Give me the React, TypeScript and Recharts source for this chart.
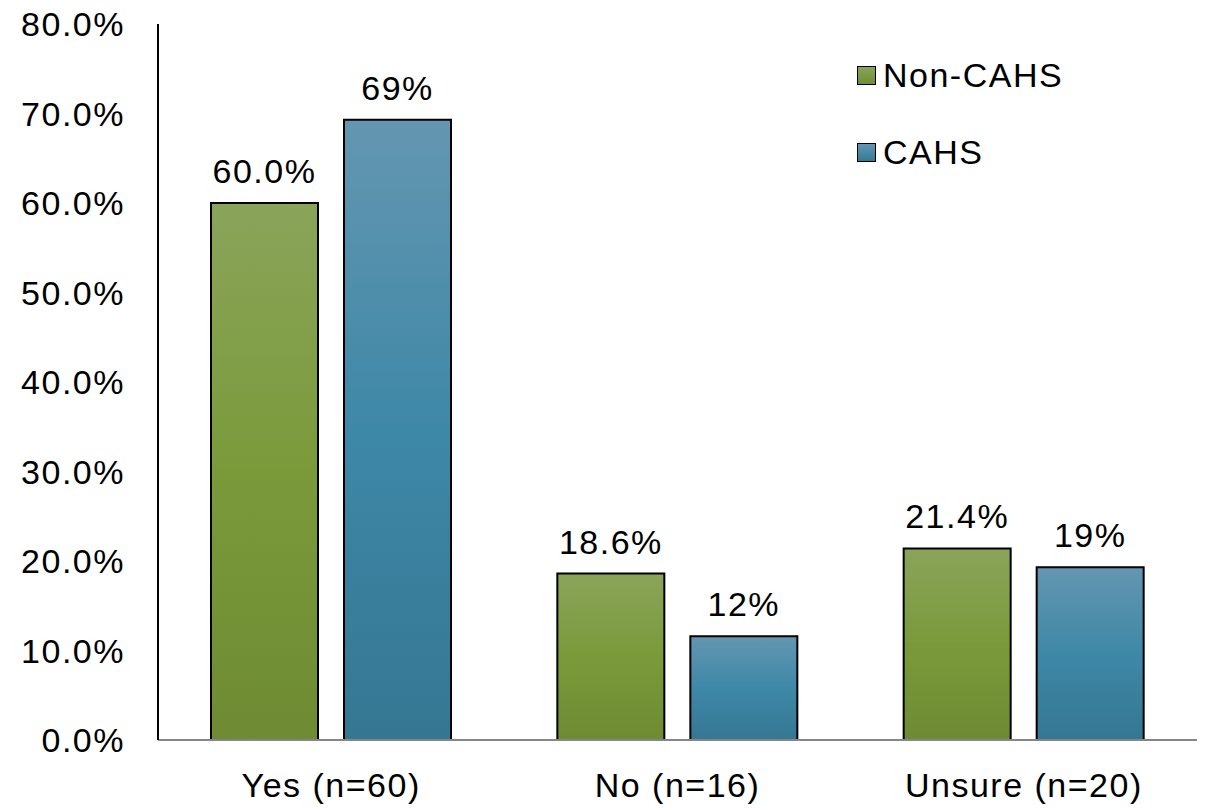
import React from "react";
import { BarChart, Bar, XAxis, YAxis, LabelList } from "recharts";

const categories = ["Yes (n=60)", "No (n=16)", "Unsure (n=20)"];
const nonCahs = [60.0, 18.6, 21.4];
const cahs = [69.3, 11.6, 19.3];
const yTicks = [0, 10, 20, 30, 40, 50, 60, 70, 80];

const data = categories.map((name, i) => ({ name, nonCahs: nonCahs[i], cahs: cahs[i] }));

const FONT = "'Liberation Sans', Arial, sans-serif";
const FONT_SIZE = 34;
const SPACING = 1.5;

const textStyle = { fill: "#000", fontSize: FONT_SIZE, fontFamily: FONT, letterSpacing: SPACING };

const legendItems = [
  { label: "Non-CAHS", top: "#8aa45a", bottom: "#6f8d35" },
  { label: "CAHS", top: "#6496b1", bottom: "#367994" },
];

const LegendBox = () => (
  <div
    style={{
      position: "absolute",
      left: 857,
      top: 55,
      fontFamily: FONT,
      fontSize: FONT_SIZE,
      letterSpacing: SPACING,
      color: "#000",
    }}
  >
    {legendItems.map((it) => (
      <div key={it.label} style={{ display: "flex", alignItems: "center", height: 40, marginBottom: 37 }}>
        <div
          style={{
            width: 17,
            height: 17,
            border: "1.5px solid #000",
            background: `linear-gradient(${it.top}, ${it.bottom})`,
            marginRight: 7,
            flexShrink: 0,
          }}
        />
        <span style={{ whiteSpace: "nowrap" }}>{it.label}</span>
      </div>
    ))}
  </div>
);

export default function App() {
  return (
    <div style={{ position: "absolute", left: 0, top: 0, width: 1208, height: 808 }}>
      <BarChart
        width={1208}
        height={808}
        data={data}
        margin={{ top: 24, right: 11, bottom: 0, left: 0 }}
        barSize={107}
        barGap={26}
      >
        <defs>
          <linearGradient id="gradGreen" x1="0" y1="0" x2="0" y2="1">
            <stop offset="0%" stopColor="#8aa45a" />
            <stop offset="50%" stopColor="#7a9a3a" />
            <stop offset="100%" stopColor="#6e8b33" />
          </linearGradient>
          <linearGradient id="gradBlue" x1="0" y1="0" x2="0" y2="1">
            <stop offset="0%" stopColor="#6496b1" />
            <stop offset="50%" stopColor="#3e88a7" />
            <stop offset="100%" stopColor="#357793" />
          </linearGradient>
        </defs>
        <XAxis
          dataKey="name"
          height={68}
          tickLine={false}
          tickSize={0}
          tickMargin={33}
          axisLine={{ stroke: "#868686", strokeWidth: 2 }}
          tick={textStyle}
        />
        <YAxis
          width={158}
          domain={[0, 80]}
          ticks={yTicks}
          interval={0}
          tickLine={false}
          tickSize={0}
          tickMargin={33}
          axisLine={{ stroke: "#000", strokeWidth: 2 }}
          tickFormatter={(v: number) => `${v.toFixed(1)}%`}
          tick={textStyle}
        />
        <Bar dataKey="nonCahs" name="Non-CAHS" fill="url(#gradGreen)" stroke="#000" strokeWidth={2} isAnimationActive={false}>
          <LabelList
            dataKey="nonCahs"
            position="top"
            offset={20}
            formatter={(v: number) => `${v.toFixed(1)}%`}
            style={textStyle}
          />
        </Bar>
        <Bar dataKey="cahs" name="CAHS" fill="url(#gradBlue)" stroke="#000" strokeWidth={2} isAnimationActive={false}>
          <LabelList
            dataKey="cahs"
            position="top"
            offset={20}
            formatter={(v: number) => `${v.toFixed(0)}%`}
            style={textStyle}
          />
        </Bar>
      </BarChart>
      <LegendBox />
    </div>
  );
}
